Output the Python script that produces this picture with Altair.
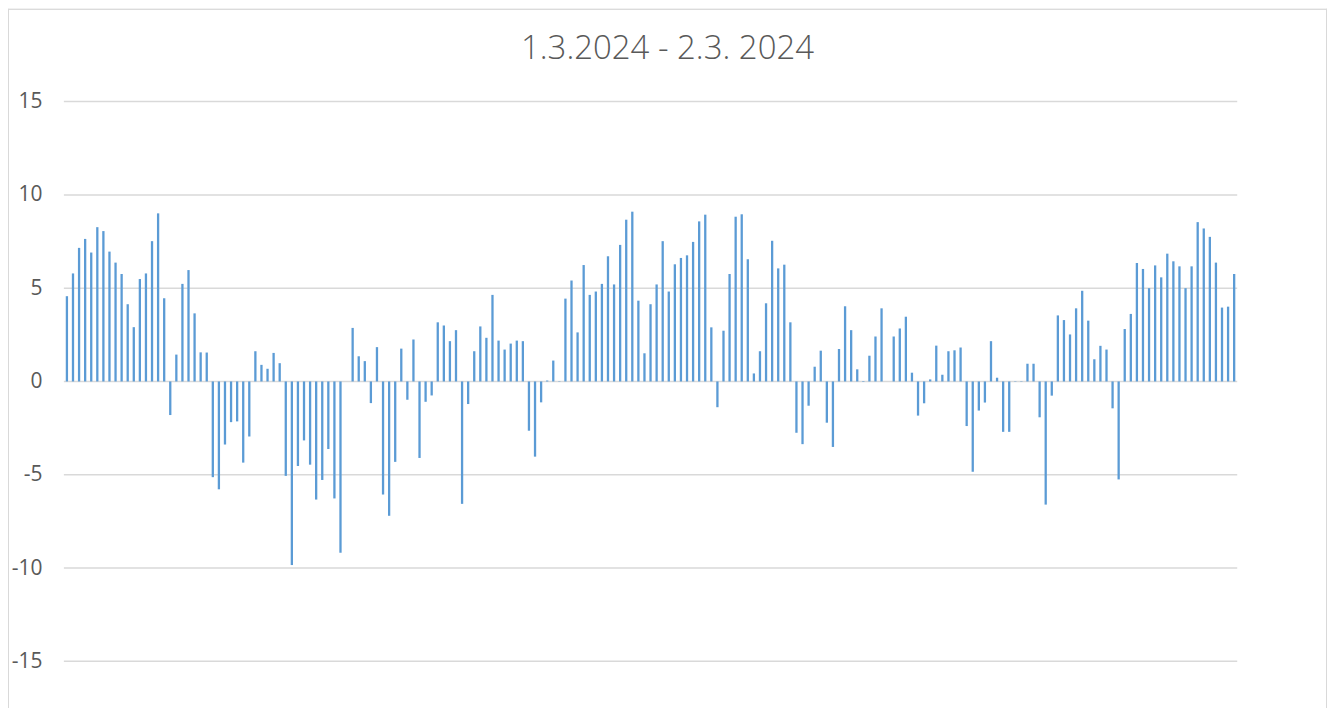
import altair as alt
import pandas as pd

# ---- data ----
bar_values = [
    4.57, 5.79, 7.16, 7.64, 6.91, 8.27, 8.06, 6.96, 6.37, 5.76,
    4.14, 2.91, 5.49, 5.79, 7.52, 9.01, 4.46, -1.80, 1.44, 5.23,
    5.97, 3.65, 1.56, 1.55, -5.13, -5.78, -3.38, -2.18, -2.14, -4.35,
    -2.95, 1.62, 0.89, 0.68, 1.53, 0.98, -5.06, -9.84, -4.53, -3.16,
    -4.46, -6.33, -5.28, -3.62, -6.27, -9.18, 0.0, 2.87, 1.35, 1.09,
    -1.16, 1.84, -6.06, -7.20, -4.31, 1.76, -0.98, 2.25, -4.10, -1.09,
    -0.75, 3.17, 3.00, 2.16, 2.75, -6.56, -1.21, 1.62, 2.95, 2.34,
    4.64, 2.19, 1.71, 2.03, 2.19, 2.16, -2.64, -4.03, -1.12, 0.05,
    1.12, -0.02, 4.44, 5.41, 2.63, 6.24, 4.64, 4.82, 5.23, 6.71,
    5.20, 7.32, 8.67, 9.10, 4.33, 1.51, 4.14, 5.20, 7.52, 4.82,
    6.28, 6.62, 6.76, 7.48, 8.58, 8.94, 2.90, -1.38, 2.72, 5.76,
    8.83, 8.96, 6.55, 0.43, 1.62, 4.19, 7.54, 6.06, 6.26, 3.17,
    -2.75, -3.36, -1.30, 0.79, 1.65, -2.21, -3.51, 1.74, 4.03, 2.75,
    0.65, -0.03, 1.38, 2.41, 3.92, 0.0, 2.41, 2.84, 3.47, 0.47,
    -1.83, -1.17, 0.11, 1.92, 0.36, 1.62, 1.67, 1.82, -2.39, -4.84,
    -1.56, -1.13, 2.16, 0.20, -2.70, -2.70, 0.02, 0.02, 0.95, 0.95,
    -1.92, -6.60, -0.76, 3.54, 3.29, 2.52, 3.92, 4.86, 3.26, 1.19,
    1.91, 1.71, -1.44, -5.25, 2.81, 3.62, 6.35, 6.03, 5.00, 6.22,
    5.58, 6.85, 6.44, 6.17, 5.00, 6.17, 8.54, 8.20, 7.75, 6.37,
    3.96, 4.01, 5.76,
]
categories = list(range(1, len(bar_values) + 1))
tick_values = [-15, -10, -5, 0, 5, 10, 15]
title_text = "1.3.2024 - 2.3. 2024"

N = len(bar_values)
W, H = 1322, 712
TEXT = "#595959"
GRID = "#d9d9d9"
BLUE = "#5b9bd5"

df = pd.DataFrame({"i": categories, "v": bar_values})
grid_df = pd.DataFrame({"v": tick_values})
one = pd.DataFrame({"e": [0]})

x_scale = alt.Scale(domain=[0.5, N + 0.5], range=[56, 1232], nice=False, zero=False, padding=0)
y_scale = alt.Scale(domain=[-15, 15], range=[654, 93], nice=False, zero=False, padding=0)
y_axis = alt.Axis(values=tick_values, grid=False, domain=False, ticks=False, tickSize=0,
                  labelPadding=0, offset=-34, labelFont="Open Sans", labelFontSize=21,
                  labelColor=TEXT, title=None, labelExpr="'' + datum.value")

grid = alt.Chart(grid_df).transform_calculate(
    x0="0.5", x1=f"{N} + 0.5"
).mark_rule(color=GRID, strokeWidth=1.5).encode(
    x=alt.X("x0:Q", scale=x_scale, axis=None),
    x2="x1:Q",
    y=alt.Y("v:Q", scale=y_scale, axis=y_axis),
)

bars = alt.Chart(df).mark_bar(color=BLUE, size=2.3).encode(
    x=alt.X("i:Q", scale=x_scale, axis=None),
    y=alt.Y("v:Q", scale=y_scale, axis=y_axis),
    y2=alt.datum(0),
)

top_b = alt.Chart(one).mark_rule(color=GRID, strokeWidth=1).encode(y=alt.value(0.5))
left_b = alt.Chart(one).mark_rule(color=GRID, strokeWidth=1).encode(x=alt.value(0.5))
right_b = alt.Chart(one).mark_rule(color=GRID, strokeWidth=1).encode(x=alt.value(W - 0.5))

chart = alt.layer(grid, bars, top_b, left_b, right_b).properties(
    width=W, height=H, padding=0, autosize="none",
    title=alt.TitleParams(title_text, anchor="middle", frame="group", offset=-84,
                          baseline="alphabetic", font="Open Sans", fontSize=33,
                          fontWeight=300, color=TEXT),
).configure_view(stroke=None).configure(background="white")

chart.save("out.html", embed_options={"renderer": "svg", "actions": False})
